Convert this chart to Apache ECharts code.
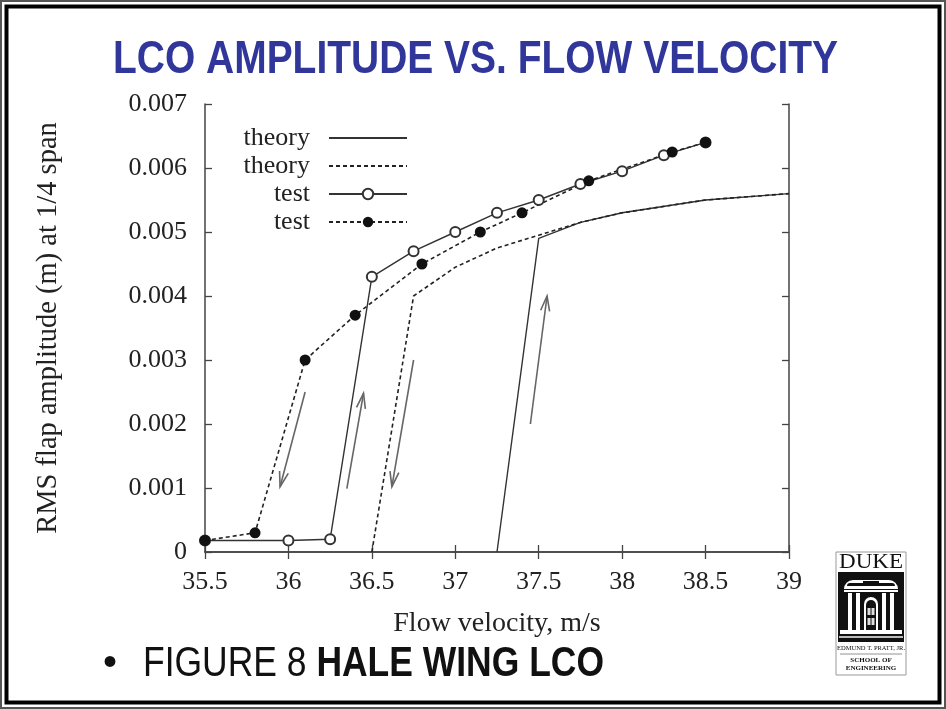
<!DOCTYPE html>
<html>
<head>
<meta charset="utf-8">
<title>LCO amplitude vs. flow velocity</title>
<script src="https://cdn.jsdelivr.net/npm/echarts@6/dist/echarts.min.js"></script>
<style>
  html, body { margin: 0; padding: 0; background: #fff; }
  #chart { width: 946px; height: 709px; }
</style>
</head>
<body>
<div id="chart"></div>
<script>
// Theory, increasing velocity (solid)
const theorySolidX = [37.25, 37.5, 37.75, 38.0, 38.5, 39.0];
const theorySolidY = [0, 0.0049, 0.00515, 0.0053, 0.0055, 0.0056];

// Theory, decreasing velocity (dashed)
const theoryDashX = [36.5, 36.75, 37.0, 37.25, 37.5, 37.75, 38.0, 38.5, 39.0];
const theoryDashY = [0, 0.0040, 0.00445, 0.00475, 0.00495, 0.00515, 0.0053, 0.0055, 0.0056];

// Test, increasing velocity (solid, open circles)
const testOpenX = [35.5, 36.0, 36.25, 36.5, 36.75, 37.0, 37.25, 37.5, 37.75, 38.0, 38.25, 38.5];
const testOpenY = [0.00018, 0.00018, 0.0002, 0.0043, 0.0047, 0.0050, 0.0053, 0.0055, 0.00575, 0.00595, 0.0062, 0.0064];

// Test, decreasing velocity (dashed, filled circles)
const testFilledX = [35.5, 35.8, 36.1, 36.4, 36.8, 37.15, 37.4, 37.8, 38.3, 38.5];
const testFilledY = [0.00018, 0.0003, 0.0030, 0.0037, 0.0045, 0.0050, 0.0053, 0.0058, 0.00625, 0.0064];

// Direction arrows (tail -> head) in data units
const arrowTail = [[36.10, 0.0025], [36.35, 0.00099], [36.75, 0.0030], [37.45, 0.0020]];
const arrowHead = [[35.95, 0.00102], [36.45, 0.00248], [36.62, 0.00102], [37.55, 0.0040]];

// Axis ticks
const xTickLabels = ['35.5', '36', '36.5', '37', '37.5', '38', '38.5', '39'];
const yTickLabels = ['0', '0.001', '0.002', '0.003', '0.004', '0.005', '0.006', '0.007'];

const serif = '"Liberation Serif", "Times New Roman", serif';
const ink = '#222';

const zip = (xs, ys) => xs.map((x, i) => [x, ys[i]]);

function textWidth(font, s) {
  const ctx = document.createElement('canvas').getContext('2d');
  ctx.font = font;
  return ctx.measureText(s).width;
}

const titleText = 'LCO AMPLITUDE VS. FLOW VELOCITY';
const titleFont = 'bold 46px "Liberation Sans"';
const titleScale = 725 / textWidth(titleFont, titleText);

const capA = 'FIGURE 8 ';
const capB = 'HALE WING LCO';
const capWidth = textWidth('42px "Liberation Sans"', capA) + textWidth('bold 42px "Liberation Sans"', capB);
const capScale = 461 / capWidth;

const dukeFont = '20px "Liberation Serif"';
const dukeScale = 64 / textWidth(dukeFont, 'DUKE');

const chart = echarts.init(document.getElementById('chart'), null, { renderer: 'canvas' });

const axisLineStyle = { color: '#444', width: 1.5 };
const tickStyle = { show: true, inside: true, length: 7, lineStyle: { color: '#444', width: 1.3 } };

// Duke Pratt School of Engineering badge
const logo = {
  type: 'group', x: 836, y: 552, silent: true,
  children: [
    { type: 'rect', shape: { x: 0, y: 0, width: 70, height: 123 }, style: { fill: '#fff', stroke: '#999', lineWidth: 1 } },
    { type: 'text', x: 35, y: 11, scaleX: dukeScale, style: { text: 'DUKE', font: dukeFont, fill: '#111', align: 'center', verticalAlign: 'middle' } },
    { type: 'rect', shape: { x: 2, y: 20, width: 66, height: 70 }, style: { fill: '#111' } },
    { type: 'rect', shape: { x: 8, y: 28, width: 54, height: 9, r: [12, 12, 0, 0] }, style: { fill: '#fff' } },
    { type: 'rect', shape: { x: 11, y: 31, width: 48, height: 3, r: [8, 8, 0, 0] }, style: { fill: '#111' } },
    { type: 'rect', shape: { x: 27, y: 29, width: 16, height: 3 }, style: { fill: '#111' } },
    { type: 'rect', shape: { x: 8, y: 38, width: 54, height: 2 }, style: { fill: '#fff' } },
    { type: 'rect', shape: { x: 12, y: 41, width: 4, height: 37 }, style: { fill: '#fff' } },
    { type: 'rect', shape: { x: 20, y: 41, width: 4, height: 37 }, style: { fill: '#fff' } },
    { type: 'rect', shape: { x: 46, y: 41, width: 4, height: 37 }, style: { fill: '#fff' } },
    { type: 'rect', shape: { x: 54, y: 41, width: 4, height: 37 }, style: { fill: '#fff' } },
    { type: 'rect', shape: { x: 28, y: 45, width: 14, height: 33, r: [7, 7, 0, 0] }, style: { fill: '#fff' } },
    { type: 'rect', shape: { x: 30, y: 48, width: 10, height: 30, r: [5, 5, 0, 0] }, style: { fill: '#111' } },
    { type: 'rect', shape: { x: 31.5, y: 56, width: 3, height: 7 }, style: { fill: '#ddd' } },
    { type: 'rect', shape: { x: 35.5, y: 56, width: 3, height: 7 }, style: { fill: '#ddd' } },
    { type: 'rect', shape: { x: 31.5, y: 66, width: 3, height: 7 }, style: { fill: '#ddd' } },
    { type: 'rect', shape: { x: 35.5, y: 66, width: 3, height: 7 }, style: { fill: '#ddd' } },
    { type: 'rect', shape: { x: 4, y: 78, width: 62, height: 4 }, style: { fill: '#fff' } },
    { type: 'rect', shape: { x: 3, y: 84, width: 64, height: 2 }, style: { fill: '#bbb' } },
    { type: 'text', x: 35, y: 93, style: { text: 'EDMUND T. PRATT, JR.', font: '6.5px ' + serif, fill: '#111', align: 'center', verticalAlign: 'top' } },
    { type: 'line', shape: { x1: 4, y1: 102, x2: 66, y2: 102 }, style: { stroke: '#777', lineWidth: 0.8 } },
    { type: 'text', x: 35, y: 105, style: { text: 'SCHOOL OF', font: 'bold 7px ' + serif, fill: '#111', align: 'center', verticalAlign: 'top' } },
    { type: 'text', x: 35, y: 113, style: { text: 'ENGINEERING', font: 'bold 7px ' + serif, fill: '#111', align: 'center', verticalAlign: 'top' } }
  ]
};

const option = {
  backgroundColor: '#fff',
  animation: false,
  grid: { left: 205, top: 104, width: 584, height: 448, containLabel: false },
  legend: {
    orient: 'vertical',
    align: 'right',
    left: 205,
    top: 120,
    itemWidth: 78,
    itemHeight: 13,
    itemGap: 2,
    selectedMode: false,
    formatter: name => name.split('-')[0],
    textStyle: { fontFamily: serif, fontSize: 26, color: ink, width: 100, lineHeight: 24, padding: [0, 14, 0, 0] },
    data: [
      { name: 'theory-up', itemStyle: { opacity: 0 } },
      { name: 'theory-down', itemStyle: { opacity: 0 } },
      'test-up',
      'test-down'
    ]
  },
  xAxis: [
    {
      type: 'value', min: 35.5, max: 39, interval: 0.5,
      name: 'Flow velocity, m/s', nameLocation: 'middle', nameGap: 58,
      nameTextStyle: { fontFamily: serif, fontSize: 28, color: ink },
      axisLine: { show: true, lineStyle: axisLineStyle },
      axisTick: tickStyle,
      splitLine: { show: false },
      axisLabel: {
        margin: 17, fontFamily: serif, fontSize: 26, color: ink,
        formatter: v => xTickLabels[Math.round((v - 35.5) / 0.5)]
      }
    },
    {
      type: 'value', position: 'top', min: 35.5, max: 39, interval: 0.5,
      axisLine: { show: true, lineStyle: axisLineStyle },
      axisTick: tickStyle, axisLabel: { show: false }, splitLine: { show: false }
    }
  ],
  yAxis: [
    {
      type: 'value', min: 0, max: 0.007, interval: 0.001,
      name: 'RMS flap amplitude (m) at 1/4 span', nameLocation: 'middle', nameGap: 142, nameRotate: 90,
      nameTextStyle: { fontFamily: serif, fontSize: 28.5, color: ink },
      axisLine: { show: true, lineStyle: axisLineStyle },
      axisTick: tickStyle,
      splitLine: { show: false },
      axisLabel: {
        margin: 18, fontFamily: serif, fontSize: 26, color: ink,
        formatter: v => yTickLabels[Math.round(v / 0.001)]
      }
    },
    {
      type: 'value', position: 'right', min: 0, max: 0.007, interval: 0.001,
      axisLine: { show: true, lineStyle: axisLineStyle },
      axisTick: tickStyle, axisLabel: { show: false }, splitLine: { show: false }
    }
  ],
  series: [
    {
      name: 'theory-up', type: 'line', data: zip(theorySolidX, theorySolidY),
      symbol: 'none', showSymbol: false,
      lineStyle: { color: '#333', width: 1.4, type: 'solid' }, itemStyle: { color: '#333' }
    },
    {
      name: 'theory-down', type: 'line', data: zip(theoryDashX, theoryDashY),
      symbol: 'none', showSymbol: false,
      lineStyle: { color: '#222', width: 1.6, type: [4, 3] }, itemStyle: { color: '#222' }
    },
    {
      name: 'test-up', type: 'line', data: zip(testOpenX, testOpenY),
      symbol: 'emptyCircle', symbolSize: 10,
      lineStyle: { color: '#333', width: 1.4, type: 'solid' },
      itemStyle: { color: '#333', borderColor: '#333', borderWidth: 1.2 }
    },
    {
      name: 'test-down', type: 'line', data: zip(testFilledX, testFilledY),
      symbol: 'circle', symbolSize: 11,
      lineStyle: { color: '#222', width: 1.6, type: [4, 3] },
      itemStyle: { color: '#111' }
    },
    {
      name: 'arrows', type: 'custom', silent: true, z: 1,
      data: arrowTail.map((t, i) => [t[0], t[1], arrowHead[i][0], arrowHead[i][1]]),
      encode: { x: [0, 2], y: [1, 3] },
      renderItem: (params, api) => {
        const a = api.coord([api.value(0), api.value(1)]);
        const b = api.coord([api.value(2), api.value(3)]);
        const dx = b[0] - a[0], dy = b[1] - a[1];
        const len = Math.hypot(dx, dy);
        const ux = dx / len, uy = dy / len;
        const hl = 15, hw = 4.5;
        const bx = b[0] - ux * hl, by = b[1] - uy * hl;
        const p1 = [bx - uy * hw, by + ux * hw];
        const p2 = [bx + uy * hw, by - ux * hw];
        const st = { stroke: '#666', lineWidth: 1.6, fill: null };
        return {
          type: 'group',
          children: [
            { type: 'line', shape: { x1: a[0], y1: a[1], x2: b[0], y2: b[1] }, style: st },
            { type: 'polyline', shape: { points: [p1, b, p2] }, style: st }
          ]
        };
      }
    }
  ],
  graphic: [
    // slide frame
    { type: 'rect', silent: true, shape: { x: 1, y: 1, width: 944, height: 707 }, style: { fill: null, stroke: '#555', lineWidth: 2 } },
    { type: 'rect', silent: true, shape: { x: 6.5, y: 6.5, width: 933, height: 696 }, style: { fill: null, stroke: '#000', lineWidth: 4 } },
    {
      type: 'text', x: 113, y: 60, scaleX: titleScale, silent: true,
      style: { text: titleText, font: titleFont, fill: '#31379a', align: 'left', verticalAlign: 'middle' }
    },
    {
      type: 'text', x: 110, y: 664, silent: true,
      style: { text: '•', font: '40px "Liberation Sans"', fill: '#111', align: 'center', verticalAlign: 'middle' }
    },
    {
      type: 'text', x: 143, y: 664, scaleX: capScale, silent: true,
      style: {
        text: '{a|' + capA + '}{b|' + capB + '}', align: 'left', verticalAlign: 'middle',
        rich: {
          a: { font: '42px "Liberation Sans"', fill: '#111' },
          b: { font: 'bold 42px "Liberation Sans"', fill: '#111' }
        }
      }
    },
    logo
  ]
};

chart.setOption(option);
</script>
</body>
</html>
